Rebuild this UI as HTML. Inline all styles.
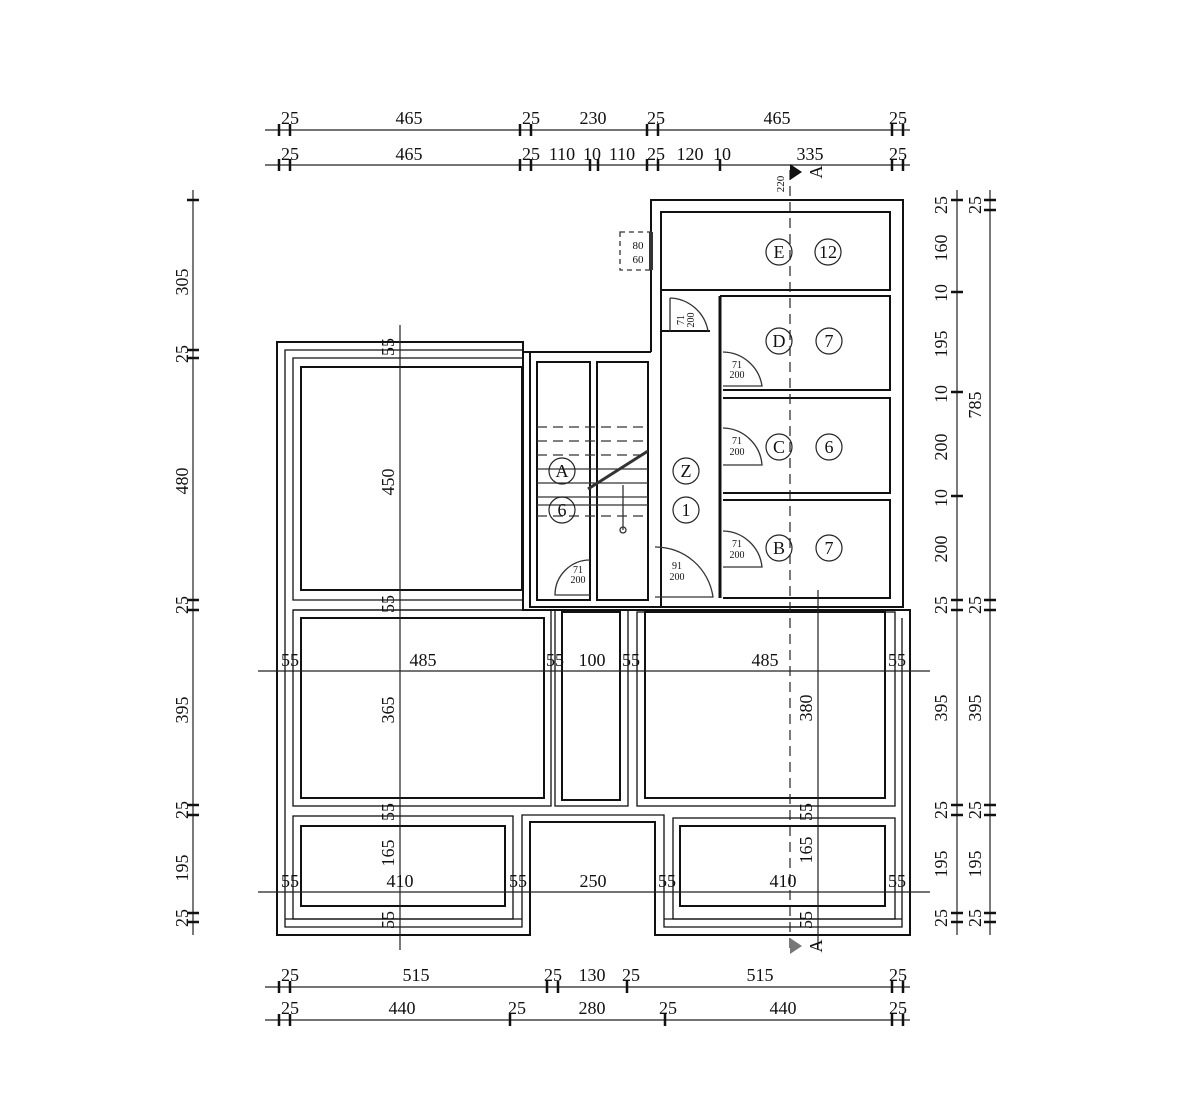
<!DOCTYPE html>
<html><head><meta charset="utf-8"><style>body{margin:0;background:#fff}svg{display:block}text{font-family:"Liberation Serif",serif;fill:#111}</style></head><body>
<svg width="1200" height="1120" viewBox="0 0 1200 1120" xmlns="http://www.w3.org/2000/svg">
<g fill="none" stroke="#111" stroke-width="2">
<path d="M523,342 H277 V935 H530 V822 H655 V935 H910 V610 H523 Z"/>
<path d="M523,350 H285 V927 H522 V815 H664 V927 H902 V618" stroke-width="1.3"/>
<path d="M523,358 H293 V600 H523" stroke-width="1.3"/>
<rect x="301" y="367" width="221" height="223"/>
<path d="M293,610 H523" stroke-width="1.3"/>
<rect x="293" y="610" width="258" height="196" stroke-width="1.3"/>
<rect x="301" y="618" width="243" height="180"/>
<rect x="555" y="610" width="73" height="196" stroke-width="1.3"/>
<rect x="562" y="612" width="58" height="188"/>
<rect x="637" y="612" width="258" height="194" stroke-width="1.3"/>
<rect x="645" y="612" width="240" height="186"/>
<rect x="293" y="816" width="220" height="103" stroke-width="1.3"/>
<rect x="301" y="826" width="204" height="80"/>
<rect x="673" y="818" width="222" height="101" stroke-width="1.3"/>
<rect x="680" y="826" width="205" height="80"/>
<path d="M530,822 H655" />
<path d="M285,919 H522 M664,919 H902" stroke-width="1.3"/>
<path d="M523,352 H651"/>
<rect x="537" y="362" width="53" height="238"/>
<rect x="597" y="362" width="51" height="238"/>
<path d="M530,352 V607 H718"/>
<path d="M651,352 V200 H903 V607 H718"/>
<rect x="661" y="212" width="229" height="78"/>
<path d="M661,290 V607"/>
<path d="M720,296 H890 V390 H723 M723,398 H890 V493 H723 M723,500 H890 V598 H723"/>
<path d="M720,296 V598" stroke-width="3"/>
<path d="M661,331 H710"/>
</g>
<g stroke="#333" stroke-width="1.3" fill="none">
<path d="M537,427 H648 M537,441 H648 M537,455 H648 M537,516 H648" stroke-dasharray="10,6"/>
<path d="M537,469 H648 M537,483 H648 M537,497 H648 M537,505 H648"/>
<path d="M588,489 L648,451" stroke-width="3"/>
<path d="M623,485 V530"/><circle cx="623" cy="530" r="3"/>
<path d="M590,560 A35,35 0 0 0 555,595 H590"/>
<path d="M655,547 A58,58 0 0 1 713,597 H655"/>
<path d="M670,298 A40,40 0 0 1 708,331"/><path d="M670,298 V331"/>
<path d="M723,352 A40,40 0 0 1 762,386 H723"/>
<path d="M723,428 A40,40 0 0 1 762,465 H723"/>
<path d="M723,531 A40,40 0 0 1 762,567 H723"/>
<rect x="620" y="232" width="32" height="38" stroke-dasharray="5,4"/>
<path d="M651,232 V270" stroke-width="4"/>
</g>
<g stroke="#222" stroke-width="1.2" fill="none">
<path d="M265,130 H910 M265,165 H910 M265,987 H910 M265,1020 H910"/>
<path d="M193,190 V935 M957,190 V935 M990,190 V935"/>
<path d="M400,325 V950 M258,671 H930 M258,892 H930 M818,590 V950"/>
<path d="M790,170 V950" stroke-dasharray="10,6"/>
</g>
<g stroke="#111" stroke-width="2.5">
<path d="M279,124V136M290,124V136M520,124V136M531,124V136M647,124V136M658,124V136M892,124V136M903,124V136"/>
<path d="M279,159V171M290,159V171M520,159V171M531,159V171M590,159V171M598,159V171M647,159V171M658,159V171M720,159V171M903,159V171M892,159V171"/>
<path d="M279,981V993M290,981V993M547,981V993M558,981V993M627,981V993M892,981V993M903,981V993"/>
<path d="M279,1014V1026M290,1014V1026M510,1014V1026M665,1014V1026M892,1014V1026M903,1014V1026"/>
<path d="M187,200H199M187,350H199M187,358H199M187,600H199M187,610H199M187,805H199M187,815H199M187,913H199M187,922H199"/>
<path d="M951,200H963M951,292H963M951,392H963M951,496H963M951,600H963M951,610H963M951,805H963M951,815H963M951,913H963M951,922H963"/>
<path d="M984,200H996M984,210H996M984,600H996M984,610H996M984,805H996M984,815H996M984,913H996M984,922H996"/>
</g>
<path d="M790,164 L802,172 L790,180 Z" fill="#111"/>
<path d="M790,938 L802,946 L790,954 Z" fill="#777"/>
<g font-size="18" text-anchor="middle">
<text x="290" y="124">25</text><text x="409" y="124">465</text><text x="531" y="124">25</text><text x="593" y="124">230</text><text x="656" y="124">25</text><text x="777" y="124">465</text><text x="898" y="124">25</text>
<text x="290" y="160">25</text><text x="409" y="160">465</text><text x="531" y="160">25</text><text x="562" y="160">110</text><text x="592" y="160">10</text><text x="622" y="160">110</text><text x="656" y="160">25</text><text x="690" y="160">120</text><text x="722" y="160">10</text><text x="810" y="160">335</text><text x="898" y="160">25</text>
<text x="290" y="981">25</text><text x="416" y="981">515</text><text x="553" y="981">25</text><text x="592" y="981">130</text><text x="631" y="981">25</text><text x="760" y="981">515</text><text x="898" y="981">25</text>
<text x="290" y="1014">25</text><text x="402" y="1014">440</text><text x="517" y="1014">25</text><text x="592" y="1014">280</text><text x="668" y="1014">25</text><text x="783" y="1014">440</text><text x="898" y="1014">25</text>
<text x="290" y="666">55</text><text x="423" y="666">485</text><text x="555" y="666">55</text><text x="592" y="666">100</text><text x="631" y="666">55</text><text x="765" y="666">485</text><text x="897" y="666">55</text>
<text x="290" y="887">55</text><text x="400" y="887">410</text><text x="518" y="887">55</text><text x="593" y="887">250</text><text x="667" y="887">55</text><text x="783" y="887">410</text><text x="897" y="887">55</text>
<text x="779" y="258">E</text><text x="828" y="258">12</text>
<text x="779" y="347">D</text><text x="829" y="347">7</text>
<text x="779" y="453">C</text><text x="829" y="453">6</text>
<text x="779" y="554">B</text><text x="829" y="554">7</text>
<text x="686" y="477">Z</text><text x="686" y="516">1</text>
<text x="562" y="477">A</text><text x="562" y="516">6</text>
</g>
<g fill="none" stroke="#222" stroke-width="1.2">
<circle cx="779" cy="252" r="13"/><circle cx="828" cy="252" r="13"/>
<circle cx="779" cy="341" r="13"/><circle cx="829" cy="341" r="13"/>
<circle cx="779" cy="447" r="13"/><circle cx="829" cy="447" r="13"/>
<circle cx="779" cy="548" r="13"/><circle cx="829" cy="548" r="13"/>
<circle cx="686" cy="471" r="13"/><circle cx="686" cy="510" r="13"/>
<circle cx="562" cy="471" r="13"/><circle cx="562" cy="510" r="13"/>
</g>
<g font-size="10" text-anchor="middle">
<text x="578" y="573">71</text><text x="578" y="583">200</text>
<text x="677" y="569">91</text><text x="677" y="580">200</text>
<text x="737" y="368">71</text><text x="737" y="378">200</text>
<text x="737" y="444">71</text><text x="737" y="455">200</text>
<text x="737" y="547">71</text><text x="737" y="558">200</text>
<text x="638" y="249" font-size="11">80</text><text x="638" y="263" font-size="11">60</text>
<text transform="translate(684,320) rotate(-90)">71</text><text transform="translate(694,320) rotate(-90)">200</text>
</g>
<g font-size="18" text-anchor="middle">
<text transform="translate(188,282) rotate(-90)">305</text>
<text transform="translate(188,354) rotate(-90)">25</text>
<text transform="translate(188,481) rotate(-90)">480</text>
<text transform="translate(188,605) rotate(-90)">25</text>
<text transform="translate(188,710) rotate(-90)">395</text>
<text transform="translate(188,810) rotate(-90)">25</text>
<text transform="translate(188,868) rotate(-90)">195</text>
<text transform="translate(188,918) rotate(-90)">25</text>
<text transform="translate(394,347) rotate(-90)">55</text>
<text transform="translate(394,482) rotate(-90)">450</text>
<text transform="translate(394,604) rotate(-90)">55</text>
<text transform="translate(394,710) rotate(-90)">365</text>
<text transform="translate(394,812) rotate(-90)">55</text>
<text transform="translate(394,853) rotate(-90)">165</text>
<text transform="translate(394,920) rotate(-90)">55</text>
<text transform="translate(812,708) rotate(-90)">380</text>
<text transform="translate(812,812) rotate(-90)">55</text>
<text transform="translate(812,850) rotate(-90)">165</text>
<text transform="translate(812,920) rotate(-90)">55</text>
<text transform="translate(947,205) rotate(-90)">25</text>
<text transform="translate(947,248) rotate(-90)">160</text>
<text transform="translate(947,293) rotate(-90)">10</text>
<text transform="translate(947,344) rotate(-90)">195</text>
<text transform="translate(947,394) rotate(-90)">10</text>
<text transform="translate(947,447) rotate(-90)">200</text>
<text transform="translate(947,498) rotate(-90)">10</text>
<text transform="translate(947,549) rotate(-90)">200</text>
<text transform="translate(947,605) rotate(-90)">25</text>
<text transform="translate(947,708) rotate(-90)">395</text>
<text transform="translate(947,810) rotate(-90)">25</text>
<text transform="translate(947,864) rotate(-90)">195</text>
<text transform="translate(947,918) rotate(-90)">25</text>
<text transform="translate(981,205) rotate(-90)">25</text>
<text transform="translate(981,405) rotate(-90)">785</text>
<text transform="translate(981,605) rotate(-90)">25</text>
<text transform="translate(981,708) rotate(-90)">395</text>
<text transform="translate(981,810) rotate(-90)">25</text>
<text transform="translate(981,864) rotate(-90)">195</text>
<text transform="translate(981,918) rotate(-90)">25</text>
<text transform="translate(822,172) rotate(-90)">A</text>
<text transform="translate(822,946) rotate(-90)">A</text>
<text transform="translate(784,184) rotate(-90)" font-size="11">220</text>
</g>
</svg>
</body></html>
